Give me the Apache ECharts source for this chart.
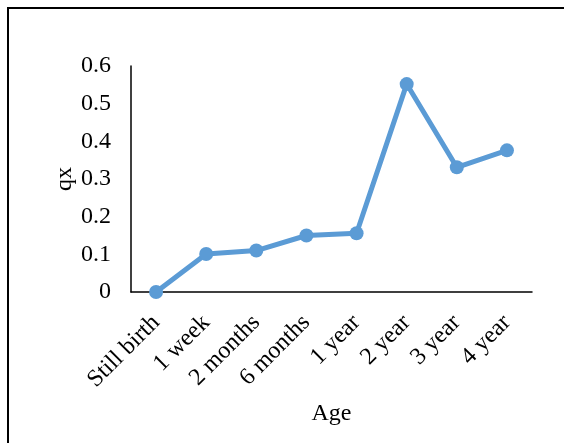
<!DOCTYPE html>
<html>
<head>
<meta charset="utf-8">
<script src="https://cdn.jsdelivr.net/npm/echarts@6/dist/echarts.min.js"></script>
<style>
html,body{margin:0;padding:0;background:#fff;}
#chart{width:564px;height:443px;}
</style>
</head>
<body>
<div id="chart"></div>
<script>
var categories = ['Still birth', '1 week', '2 months', '6 months', '1 year', '2 year', '3 year', '4 year'];
var qxValues = [0, 0.101, 0.110, 0.150, 0.156, 0.552, 0.331, 0.376];
var yTicks = { min: 0, max: 0.6, interval: 0.1 };

var font = '"Liberation Serif", "Times New Roman", serif';
var chart = echarts.init(document.getElementById('chart'), null, { renderer: 'canvas' });
chart.setOption({
  animation: false,
  backgroundColor: '#fff',
  graphic: [{
    type: 'rect',
    shape: { x: 8, y: 8, width: 620, height: 500 },
    style: { fill: null, stroke: '#000', lineWidth: 2 },
    silent: true
  }],
  grid: { left: 131, right: 32, top: 66, bottom: 151 },
  xAxis: {
    type: 'category',
    data: categories,
    boundaryGap: true,
    name: 'Age',
    nameLocation: 'middle',
    nameGap: 110,
    nameMoveOverlap: false,
    nameTextStyle: { fontFamily: font, fontSize: 24, color: '#000' },
    axisLine: { lineStyle: { color: '#000', width: 1.5 } },
    axisTick: { show: false },
    axisLabel: { rotate: 45, margin: 27, fontFamily: font, fontSize: 24, color: '#000', interval: 0 }
  },
  yAxis: {
    type: 'value',
    min: yTicks.min,
    max: yTicks.max,
    interval: yTicks.interval,
    name: 'qx',
    nameLocation: 'middle',
    nameGap: 54,
    nameMoveOverlap: false,
    nameTextStyle: { fontFamily: font, fontSize: 24, color: '#000' },
    axisLine: { show: true, lineStyle: { color: '#000', width: 1.5 } },
    axisTick: { show: false },
    splitLine: { show: false },
    axisLabel: {
      margin: 20, fontFamily: font, fontSize: 24, color: '#000',
      formatter: function (v) { return v === 0 ? '0' : v.toFixed(1); }
    }
  },
  series: [{
    type: 'line',
    data: qxValues,
    symbol: 'circle',
    symbolSize: 14,
    lineStyle: { color: '#5B9BD5', width: 5 },
    itemStyle: { color: '#5B9BD5' }
  }]
});
</script>
</body>
</html>
